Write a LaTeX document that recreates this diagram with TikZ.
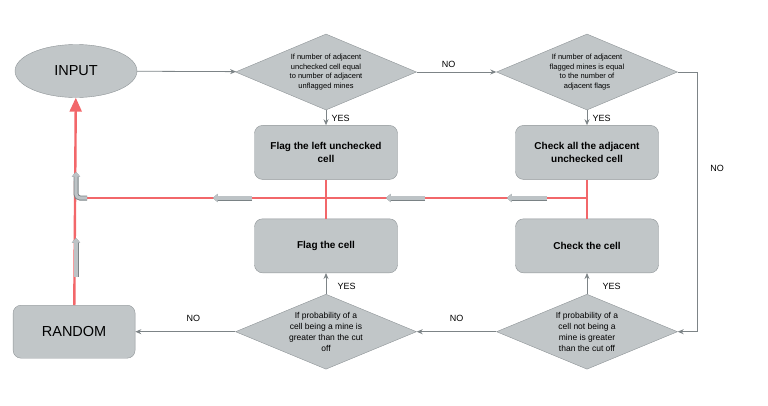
\documentclass[tikz,border=0pt]{standalone}
\usepackage{fontspec}
\setmainfont{Liberation Sans}
\usetikzlibrary{shapes.geometric, arrows.meta, positioning, calc}

\definecolor{boxfill}{HTML}{C1C6C8}
\definecolor{boxedge}{HTML}{8E9497}
\definecolor{conngray}{HTML}{7D8487}
\definecolor{loopred}{HTML}{F2676A}
\definecolor{markfill}{HTML}{BDC3C6}
\definecolor{markedge}{HTML}{7A8285}

\begin{document}
\begin{tikzpicture}[
    x=1pt, y=-1pt,
    box/.style={rectangle, draw=boxedge, fill=boxfill, rounded corners=8pt, minimum width=143pt, minimum height=54pt, align=center, font=\fontsize{10}{12.5}\selectfont\bfseries},
    decision/.style={diamond, draw=boxedge, fill=boxfill, aspect=2.3, inner sep=0pt, minimum width=181pt, minimum height=76pt, align=center},
    smalltext/.style={font=\fontsize{7.5}{9.5}\selectfont},
    midtext/.style={font=\fontsize{8.5}{11}\selectfont},
    terminal/.style={draw=boxedge, fill=boxfill, minimum width=122pt, minimum height=53pt, font=\fontsize{14.5}{17}\selectfont},
    conn/.style={-{Stealth[length=6pt,width=5pt]}, draw=conngray, line width=0.8pt},
    redline/.style={draw=loopred, line width=2.4pt},
    flowmark/.style={-{Triangle[length=4.5pt,width=8pt]}, draw=markfill, line width=3.2pt, preaction={draw=markedge, line width=5pt}},
    label/.style={font=\fontsize{9}{11}\selectfont},
]
\useasboundingbox (0,0) rectangle (768,405);

\node[terminal, ellipse] (input) at (76,71) {INPUT};
\node[decision, smalltext] (dadj) at (326,72) {If number of adjacent\\unchecked cell equal\\to number of adjacent\\unflagged mines};
\node[decision, smalltext] (dflag) at (587,72) {If number of adjacent\\flagged mines is equal\\to the number of\\adjacent flags};

\node[box, below=15pt of dadj] (flagleft) {Flag the left unchecked\\cell};
\node[box, below=15pt of dflag] (checkall) {Check all the adjacent\\unchecked cell};
\node[box, below=39pt of flagleft] (flagcell) {Flag the cell};
\node[box, below=39pt of checkall] (checkcell) {Check the cell};

\node[decision, midtext, minimum height=75pt, below=21pt of flagcell] (dmine) {If probability of a\\cell being a mine is\\greater than the cut\\off};
\node[decision, midtext, minimum height=75pt, below=21pt of checkcell] (dsafe) {If probability of a\\cell not being a\\mine is greater\\than the cut off};

\node[terminal, rectangle, rounded corners=8pt, left=100pt of dmine] (random) {RANDOM};

% red loop back to input
\coordinate (jl) at (input |- 0,198);
\coordinate (jr) at (checkall |- jl);
\draw[redline] (flagleft) -- (flagcell);
\draw[redline] (checkall) -- (checkcell);
\draw[redline] (jl) -- (jr);
\draw[redline, -{Triangle[length=14pt,width=12pt]}] (random) -- (input);

% flow marks on the red lines
\draw[flowmark] (547,198) -- (507,198);
\draw[flowmark] (425,198) -- (386,198);
\draw[flowmark] (252,198) -- (213,198);
\draw[flowmark] (76,277) -- (76,238);
\draw[flowmark, rounded corners=4pt] (87,198) -- (76,198) -- (76,172);

% connectors
\draw[conn] (input) -- (dadj);
\draw[conn] (dadj) -- node[label, above, pos=0.4, yshift=1pt] {NO} (dflag);
\draw[conn] (dadj) -- node[label, right, pos=0.55, xshift=2pt] {YES} (flagleft);
\draw[conn] (dflag) -- node[label, right, pos=0.55, xshift=2pt] {YES} (checkall);
\draw[conn] (dflag.east) -- ++(20,0) |- (dsafe.east);
\node[label] (noright) at (717,168) {NO};
\draw[conn] (dmine) -- node[label, right, pos=0.35, xshift=8pt] {YES} (flagcell);
\draw[conn] (dsafe) -- node[label, right, pos=0.35, xshift=12pt] {YES} (checkcell);
\draw[conn] (dsafe) -- node[label, above, yshift=6pt] {NO} (dmine);
\draw[conn] (dmine) -- node[label, above, pos=0.42, yshift=6pt] {NO} (random);

\end{tikzpicture}
\end{document}
